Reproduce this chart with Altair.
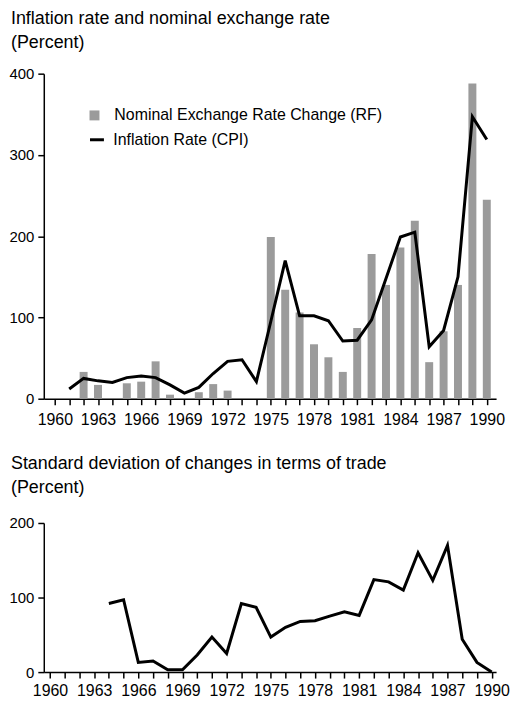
import altair as alt
import pandas as pd

RF_LABEL = "Nominal Exchange Rate Change (RF)"
CPI_LABEL = "Inflation Rate (CPI)"

cpi_years = list(range(1961, 1991))
cpi_values = [12, 25, 22, 20, 26, 28, 26, 17, 7, 14, 31, 46, 48, 21, 95, 170,
              102, 102, 96, 71, 72, 97, 148, 199, 205, 64, 84, 150, 347, 319]

rf_years = [1962, 1963, 1965, 1966, 1967, 1968, 1970, 1971, 1972,
            1975, 1976, 1977, 1978, 1979, 1980, 1981, 1982, 1983, 1984,
            1985, 1986, 1987, 1988, 1989, 1990]
rf_values = [33, 17, 19, 21, 46, 5, 8, 18, 10,
             199, 134, 106, 67, 51, 33, 87, 178, 140, 186,
             219, 45, 83, 140, 388, 245]

tot_years = list(range(1964, 1991))
tot_values = [92, 97, 13, 15, 3, 3, 23, 47, 25, 92, 87, 47, 60, 68, 69, 75,
              81, 76, 124, 121, 110, 160, 123, 170, 44, 13, 0]

tick_years = list(range(1960, 1991))

df_cpi = pd.DataFrame({"year": cpi_years, "value": cpi_values, "series": CPI_LABEL})
df_rf = pd.DataFrame({"year": rf_years, "value": rf_values, "series": RF_LABEL})
df_tot = pd.DataFrame({"year": tot_years, "value": tot_values})

FONT = "Liberation Sans, Arial, Helvetica"
NARROW = "Liberation Sans Narrow, Arial Narrow, Liberation Sans"
W = 455
H1 = 327
H2 = 150

x_scale = alt.Scale(domain=[1959.58, 1990.3], nice=False, zero=False)


def x_axis(tick, pad):
    return alt.Axis(
        values=tick_years, format="d",
        labelExpr="(datum.value - 1960) % 3 == 0 ? datum.label : ''",
        labelOverlap=False, labelFlush=False, labelBound=False,
        tickSize=tick, labelPadding=pad, labelFont=NARROW, labelFontSize=16,
        title=None,
    )


def y_axis(vals):
    return alt.Axis(values=vals, tickSize=6, labelPadding=4, labelFont=FONT,
                    labelFontSize=15, title=None)


y_top = alt.Scale(domain=[0, 400], nice=False)

bars = alt.Chart(df_rf).mark_bar(size=8).encode(
    x=alt.X("year:Q", scale=x_scale, axis=x_axis(6, 7)),
    y=alt.Y("value:Q", scale=y_top, axis=y_axis([0, 100, 200, 300, 400])),
    fill=alt.Fill("series:N",
                  scale=alt.Scale(domain=[RF_LABEL], range=["#9b9b9b"]),
                  legend=alt.Legend(orient="none", legendX=43, legendY=34,
                                    title=None, padding=0, symbolType="square",
                                    symbolSize=100, symbolStrokeWidth=0,
                                    labelOffset=12, labelFontSize=16, labelLimit=0,
                                    labelFont=FONT, labelColor="black")),
)

line = alt.Chart(df_cpi).mark_line(strokeWidth=3).encode(
    x=alt.X("year:Q", scale=x_scale, axis=x_axis(6, 7)),
    y=alt.Y("value:Q", scale=y_top, axis=y_axis([0, 100, 200, 300, 400])),
    stroke=alt.Stroke("series:N",
                      scale=alt.Scale(domain=[CPI_LABEL], range=["black"]),
                      legend=alt.Legend(orient="none", legendX=45, legendY=58,
                                        title=None, padding=0, symbolType="stroke",
                                        symbolSize=196, symbolStrokeWidth=3,
                                        labelOffset=8, labelFontSize=16, labelLimit=0,
                                        labelFont=FONT, labelColor="black")),
)

top = alt.layer(bars, line).properties(
    width=W, height=H1,
    title=alt.TitleParams(["Inflation rate and nominal exchange rate", "(Percent)"],
                          anchor="start", frame="bounds", fontSize=18,
                          font=FONT, fontWeight="normal", lineHeight=24,
                          offset=15, dx=2, color="black"),
)

bottom = alt.Chart(df_tot).mark_line(color="black", strokeWidth=3).encode(
    x=alt.X("year:Q", scale=x_scale, axis=x_axis(6, 5)),
    y=alt.Y("value:Q", scale=alt.Scale(domain=[0, 200], nice=False),
            axis=y_axis([0, 100, 200])),
).properties(
    width=W, height=H2,
    title=alt.TitleParams(["Standard deviation of changes in terms of trade", "(Percent)"],
                          anchor="start", frame="bounds", fontSize=18,
                          font=FONT, fontWeight="normal", lineHeight=24,
                          offset=19, dx=2, color="black"),
)

chart = alt.vconcat(top, bottom, spacing=28).properties(
    padding={"left": 0, "top": 0, "right": 0, "bottom": -3}
).configure_view(stroke=None).configure_axis(
    domainColor="black", domainWidth=1.5, tickColor="black", tickWidth=1.5,
    labelColor="black", grid=False,
)

chart.save("out.html", embed_options={"renderer": "svg", "actions": False})
